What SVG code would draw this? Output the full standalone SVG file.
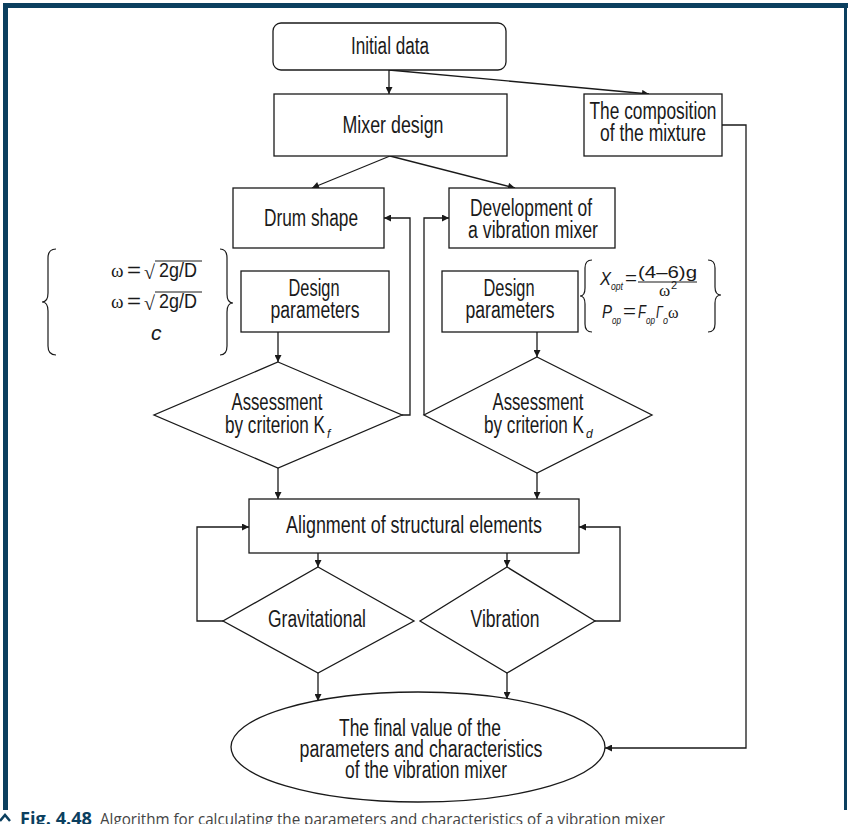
<svg xmlns="http://www.w3.org/2000/svg" width="848" height="824" viewBox="0 0 848 824">
<style>
.bx{fill:#fff;stroke:#1a1a1a;stroke-width:1.3}
.ln{fill:none;stroke:#1a1a1a;stroke-width:1.3}
.br{fill:none;stroke:#1a1a1a;stroke-width:1.2}
.t{font-family:'Liberation Sans',Arial,sans-serif;font-size:23px;fill:#1a1a1a;text-anchor:middle}
.m{font-family:'Liberation Sans',Arial,sans-serif;font-size:21px;fill:#1a1a1a}
.i{font-style:italic}
.s{font-family:'Liberation Serif','DejaVu Serif',serif;font-size:19px;fill:#1a1a1a}
.frame{fill:#0b3f5f}
</style>
<defs>
<marker id="a" viewBox="0 0 10 10" refX="10" refY="5" markerWidth="9" markerHeight="7" markerUnits="userSpaceOnUse" orient="auto">
<path d="M0,0 L10,5 L0,10 z" fill="#1a1a1a"/>
</marker>
</defs>
<rect width="848" height="824" fill="#fff"/>
<rect class="frame" x="3" y="3" width="845" height="5"/>
<rect class="frame" x="3" y="3" width="5" height="807"/>
<rect class="frame" x="844" y="3" width="3" height="807"/>

<g id="connectors">
<line class="ln" x1="389" y1="70" x2="389" y2="94" marker-end="url(#a)"/>
<line class="ln" x1="389" y1="70" x2="649" y2="94" marker-end="url(#a)"/>
<line class="ln" x1="390" y1="156" x2="312" y2="188" marker-end="url(#a)"/>
<line class="ln" x1="390" y1="156" x2="515" y2="188" marker-end="url(#a)"/>
<polyline class="ln" points="722,125 746,125 746,748 605,748" marker-end="url(#a)"/>
<polyline class="ln" points="402,415 410,415 410,218 384,218" marker-end="url(#a)"/>
<polyline class="ln" points="424,415 424,218 449,218" marker-end="url(#a)"/>
<line class="ln" x1="278" y1="332" x2="278" y2="362" marker-end="url(#a)"/>
<line class="ln" x1="537" y1="332" x2="537" y2="357" marker-end="url(#a)"/>
<line class="ln" x1="278" y1="468" x2="278" y2="499" marker-end="url(#a)"/>
<line class="ln" x1="537" y1="473" x2="537" y2="499" marker-end="url(#a)"/>
<line class="ln" x1="318" y1="553" x2="318" y2="567" marker-end="url(#a)"/>
<line class="ln" x1="507" y1="553" x2="507" y2="567" marker-end="url(#a)"/>
<polyline class="ln" points="223,621 197,621 197,527 249,527" marker-end="url(#a)"/>
<polyline class="ln" points="595,621 620,621 620,527 579,527" marker-end="url(#a)"/>
<line class="ln" x1="318" y1="673" x2="318" y2="701" marker-end="url(#a)"/>
<line class="ln" x1="507" y1="673" x2="507" y2="699" marker-end="url(#a)"/>
</g>

<g id="initial-data">
<rect class="bx" x="273" y="23" width="233" height="47" rx="8"/>
<text class="t" x="390" y="54" textLength="78" lengthAdjust="spacingAndGlyphs">Initial data</text>
</g>
<g id="mixer-design">
<rect class="bx" x="274" y="94" width="233" height="62"/>
<text class="t" x="393" y="133" textLength="101" lengthAdjust="spacingAndGlyphs">Mixer design</text>
</g>
<g id="composition">
<rect class="bx" x="584" y="94" width="138" height="62"/>
<text class="t" x="653" y="119" textLength="127" lengthAdjust="spacingAndGlyphs">The composition</text>
<text class="t" x="653" y="141" textLength="106" lengthAdjust="spacingAndGlyphs">of the mixture</text>
</g>
<g id="drum-shape">
<rect class="bx" x="233" y="188" width="151" height="60"/>
<text class="t" x="311" y="226" textLength="94" lengthAdjust="spacingAndGlyphs">Drum shape</text>
</g>
<g id="development">
<rect class="bx" x="449" y="188" width="166" height="60"/>
<text class="t" x="531" y="216" textLength="122" lengthAdjust="spacingAndGlyphs">Development of</text>
<text class="t" x="533" y="238" textLength="130" lengthAdjust="spacingAndGlyphs">a vibration mixer</text>
</g>
<g id="design-params-left">
<rect class="bx" x="241" y="271" width="148" height="61"/>
<text class="t" x="314" y="296" textLength="51" lengthAdjust="spacingAndGlyphs">Design</text>
<text class="t" x="315" y="318" textLength="89" lengthAdjust="spacingAndGlyphs">parameters</text>
</g>
<g id="design-params-right">
<rect class="bx" x="442" y="271" width="136" height="61"/>
<text class="t" x="509" y="296" textLength="51" lengthAdjust="spacingAndGlyphs">Design</text>
<text class="t" x="510" y="318" textLength="89" lengthAdjust="spacingAndGlyphs">parameters</text>
</g>
<g id="formula-left">
<path class="br" d="M56 249 Q48 249 48 258 L48 293 Q48 302 42 302 Q48 302 48 311 L48 346 Q48 355 56 355"/>
<path class="br" d="M220 249 Q227 249 227 258 L227 294 Q227 303 233 303 Q227 303 227 312 L227 346 Q227 355 220 355"/>
<text class="s" x="111" y="277">ω</text>
<text class="m" x="127" y="277" textLength="14" lengthAdjust="spacingAndGlyphs">=</text>
<text class="s" x="144" y="279" style="font-size:20px">√</text>
<line class="br" x1="155" y1="261" x2="202" y2="261"/>
<text class="m" x="159" y="277" textLength="38" lengthAdjust="spacingAndGlyphs">2g/D</text>
<text class="s" x="111" y="308">ω</text>
<text class="m" x="127" y="308" textLength="14" lengthAdjust="spacingAndGlyphs">=</text>
<text class="s" x="144" y="310" style="font-size:20px">√</text>
<line class="br" x1="155" y1="292" x2="202" y2="292"/>
<text class="m" x="159" y="308" textLength="38" lengthAdjust="spacingAndGlyphs">2g/D</text>
<text class="m i" x="151" y="340">c</text>
</g>
<g id="formula-right">
<path class="br" d="M592 260 Q585 260 585 268 L585 288 Q585 296 580 296 Q585 296 585 304 L585 324 Q585 332 592 332"/>
<path class="br" d="M708 260 Q715 260 715 268 L715 287 Q715 295 721 295 Q715 295 715 303 L715 324 Q715 332 708 332"/>
<text class="m i" x="600" y="285" style="font-size:18px" textLength="11" lengthAdjust="spacingAndGlyphs">X</text>
<text class="m i" x="611" y="290" style="font-size:10px" textLength="12" lengthAdjust="spacingAndGlyphs">opt</text>
<text class="m" x="625" y="284" style="font-size:18px" textLength="12" lengthAdjust="spacingAndGlyphs">=</text>
<text class="m" x="638" y="278" style="font-size:16px" textLength="59" lengthAdjust="spacingAndGlyphs">(4–6)g</text>
<line class="br" x1="638" y1="282" x2="697" y2="282"/>
<text class="s" x="659" y="296" style="font-size:17px">ω</text>
<text class="m" x="671" y="289" style="font-size:11px">2</text>
<text class="m i" x="602" y="318" style="font-size:18px" textLength="10" lengthAdjust="spacingAndGlyphs">P</text>
<text class="m i" x="612" y="324" style="font-size:10px" textLength="9" lengthAdjust="spacingAndGlyphs">op</text>
<text class="m" x="623" y="317" style="font-size:18px" textLength="13" lengthAdjust="spacingAndGlyphs">=</text>
<text class="m i" x="638" y="318" style="font-size:18px" textLength="8" lengthAdjust="spacingAndGlyphs">F</text>
<text class="m i" x="646" y="324" style="font-size:10px" textLength="9" lengthAdjust="spacingAndGlyphs">op</text>
<text class="m i" x="656" y="318" style="font-size:17px" textLength="7" lengthAdjust="spacingAndGlyphs">Γ</text>
<text class="m i" x="663" y="324" style="font-size:10px" textLength="5" lengthAdjust="spacingAndGlyphs">o</text>
<text class="s" x="668" y="318" style="font-size:16px">ω</text>
</g>
<g id="assessment-f">
<polygon class="bx" points="278,362 402,415 278,468 154,415"/>
<text class="t" x="277" y="410" textLength="91" lengthAdjust="spacingAndGlyphs">Assessment</text>
<text class="t" x="275" y="433" textLength="100" lengthAdjust="spacingAndGlyphs">by criterion K</text>
<text class="m i" x="327" y="438" style="font-size:12px">f</text>
</g>
<g id="assessment-d">
<polygon class="bx" points="537,357 652,415 537,473 424,415"/>
<text class="t" x="538" y="410" textLength="91" lengthAdjust="spacingAndGlyphs">Assessment</text>
<text class="t" x="534" y="433" textLength="100" lengthAdjust="spacingAndGlyphs">by criterion K</text>
<text class="m i" x="586" y="438" style="font-size:12px">d</text>
</g>
<g id="alignment">
<rect class="bx" x="249" y="499" width="330" height="54"/>
<text class="t" x="414" y="533" textLength="256" lengthAdjust="spacingAndGlyphs">Alignment of structural elements</text>
</g>
<g id="gravitational">
<polygon class="bx" points="318,567 414,621 318,673 223,621"/>
<text class="t" x="317" y="627" textLength="98" lengthAdjust="spacingAndGlyphs">Gravitational</text>
</g>
<g id="vibration">
<polygon class="bx" points="507,567 595,621 507,673 420,621"/>
<text class="t" x="505" y="627" textLength="69" lengthAdjust="spacingAndGlyphs">Vibration</text>
</g>
<g id="final-value">
<ellipse class="bx" cx="418" cy="747" rx="187" ry="55"/>
<text class="t" x="420" y="736" textLength="162" lengthAdjust="spacingAndGlyphs">The final value of the</text>
<text class="t" x="421" y="757" textLength="243" lengthAdjust="spacingAndGlyphs">parameters and characteristics</text>
<text class="t" x="426" y="778" textLength="162" lengthAdjust="spacingAndGlyphs">of the vibration mixer</text>
</g>
<g id="caption">
<polyline points="0,821 5,815 10,821" fill="none" stroke="#0b3f5f" stroke-width="2.5"/>
<text x="20" y="825" font-family="'Open Sans','Liberation Sans',sans-serif" font-size="17" font-weight="bold" fill="#0b3f5f" textLength="72" lengthAdjust="spacingAndGlyphs">Fig. 4.48</text>
<text x="100" y="825" font-family="'Open Sans','Liberation Sans',sans-serif" font-size="16" fill="#444" textLength="565" lengthAdjust="spacingAndGlyphs">Algorithm for calculating the parameters and characteristics of a vibration mixer</text>
</g>
</svg>
